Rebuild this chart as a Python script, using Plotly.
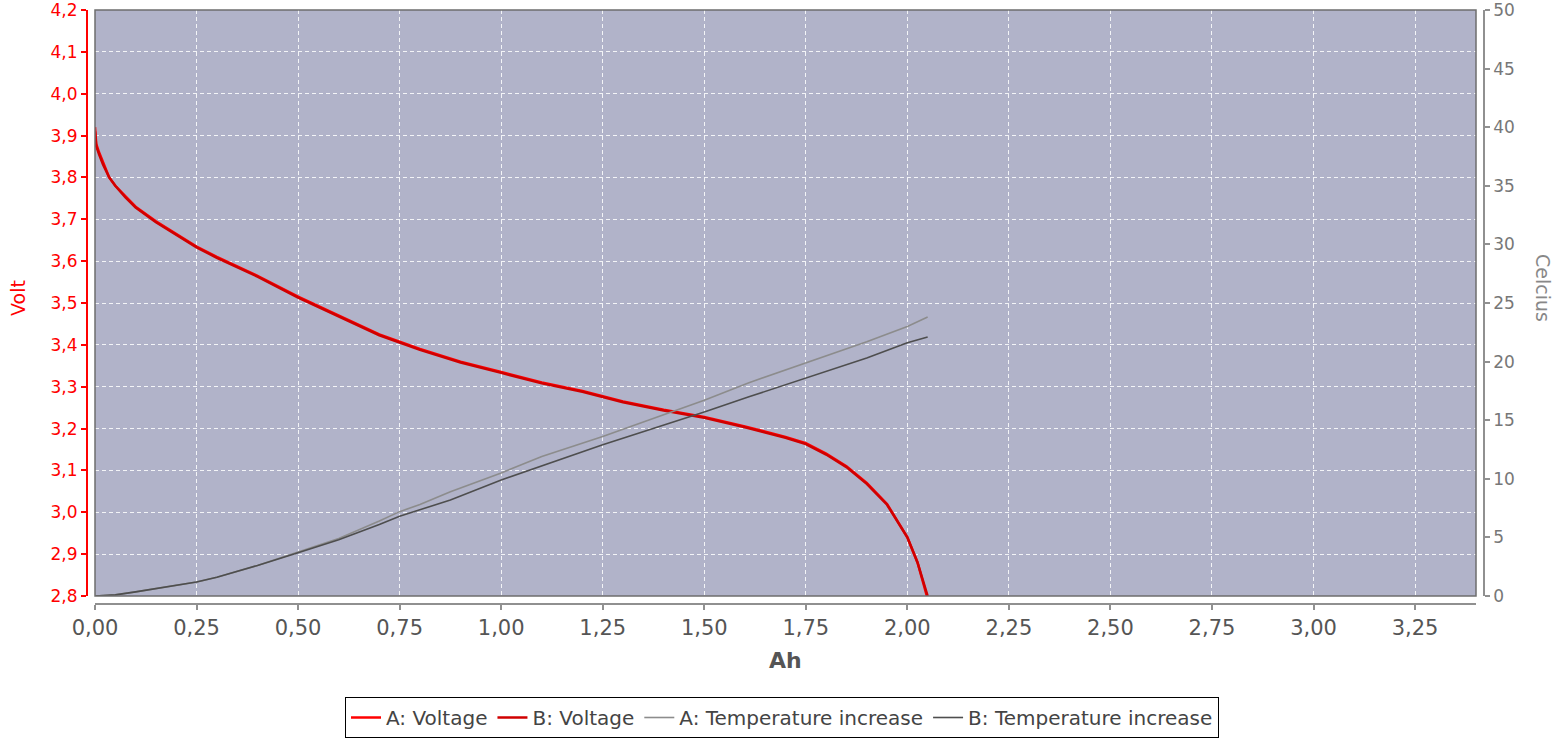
import plotly.graph_objects as go

# ---- data ----
ah_va = [0.000, 0.003, 0.010, 0.020, 0.035, 0.050, 0.075, 0.100, 0.150, 0.200,
         0.250, 0.300, 0.400, 0.500, 0.600, 0.700, 0.800, 0.900, 1.000, 1.100,
         1.200, 1.300, 1.400, 1.500, 1.600, 1.700, 1.750, 1.800, 1.850, 1.900,
         1.950, 2.000, 2.025, 2.040, 2.048]
volt_a = [3.92, 3.88, 3.86, 3.835, 3.80, 3.78, 3.755, 3.73, 3.695, 3.665,
          3.635, 3.61, 3.565, 3.515, 3.47, 3.425, 3.39, 3.36, 3.335, 3.31,
          3.29, 3.265, 3.245, 3.228, 3.205, 3.18, 3.165, 3.14, 3.11, 3.07,
          3.02, 2.94, 2.88, 2.83, 2.80]

ah_vb = [0.000, 0.003, 0.010, 0.020, 0.035, 0.050, 0.075, 0.100, 0.150, 0.200,
         0.250, 0.300, 0.400, 0.500, 0.600, 0.700, 0.800, 0.900, 1.000, 1.100,
         1.200, 1.300, 1.400, 1.500, 1.600, 1.700, 1.750, 1.800, 1.850, 1.900,
         1.950, 2.000, 2.025, 2.040, 2.050]
volt_b = [3.91, 3.875, 3.855, 3.83, 3.80, 3.78, 3.752, 3.728, 3.693, 3.663,
          3.633, 3.608, 3.563, 3.513, 3.468, 3.423, 3.388, 3.358, 3.333, 3.308,
          3.288, 3.263, 3.243, 3.226, 3.203, 3.178, 3.163, 3.138, 3.108, 3.068,
          3.018, 2.94, 2.88, 2.83, 2.80]

ah_ta = [0.00, 0.05, 0.10, 0.15, 0.20, 0.25, 0.30, 0.40, 0.50, 0.60, 0.70,
         0.75, 0.80, 0.875, 1.00, 1.10, 1.25, 1.40, 1.50, 1.61, 1.75, 1.90,
         2.00, 2.05]
temp_a = [0.0, 0.1, 0.35, 0.65, 0.9, 1.2, 1.6, 2.6, 3.75, 4.9, 6.4,
          7.2, 7.8, 8.9, 10.5, 11.9, 13.6, 15.5, 16.7, 18.2, 19.9, 21.7,
          23.0, 23.8]

ah_tb = [0.00, 0.05, 0.10, 0.15, 0.20, 0.25, 0.30, 0.40, 0.50, 0.60, 0.70,
         0.75, 0.875, 1.00, 1.25, 1.50, 1.61, 1.75, 1.90, 2.00, 2.05]
temp_b = [0.0, 0.1, 0.35, 0.65, 0.9, 1.2, 1.6, 2.6, 3.7, 4.8, 6.1,
          6.8, 8.2, 9.9, 12.9, 15.7, 17.0, 18.6, 20.3, 21.6, 22.1]

series_names = ["A: Voltage", "B: Voltage", "A: Temperature increase", "B: Temperature increase"]

# tick values / labels
volt_ticks = [2.8, 2.9, 3.0, 3.1, 3.2, 3.3, 3.4, 3.5, 3.6, 3.7, 3.8, 3.9, 4.0, 4.1, 4.2]
volt_labels = ["2,8", "2,9", "3,0", "3,1", "3,2", "3,3", "3,4", "3,5", "3,6", "3,7",
               "3,8", "3,9", "4,0", "4,1", "4,2"]
celsius_ticks = [0, 5, 10, 15, 20, 25, 30, 35, 40, 45, 50]
ah_ticks = [0.0, 0.25, 0.5, 0.75, 1.0, 1.25, 1.5, 1.75, 2.0, 2.25, 2.5, 2.75, 3.0, 3.25]
ah_labels = ["0,00", "0,25", "0,50", "0,75", "1,00", "1,25", "1,50", "1,75", "2,00",
             "2,25", "2,50", "2,75", "3,00", "3,25"]

fig = go.Figure()
fig.add_trace(go.Scatter(x=ah_va, y=volt_a, name=series_names[0], mode="lines",
                         line=dict(color="#ff0000", width=2.5), yaxis="y"))
fig.add_trace(go.Scatter(x=ah_vb, y=volt_b, name=series_names[1], mode="lines",
                         line=dict(color="#d00000", width=2.5), yaxis="y"))
fig.add_trace(go.Scatter(x=ah_ta, y=temp_a, name=series_names[2], mode="lines",
                         line=dict(color="#8c8c8c", width=1.6), yaxis="y2"))
fig.add_trace(go.Scatter(x=ah_tb, y=temp_b, name=series_names[3], mode="lines",
                         line=dict(color="#4e4e4e", width=1.6), yaxis="y2"))

# body margin is removed by post_script, figure fills the window from (0,0)
W, H = 1558, 741
ml = 87
mt = 10
mr = W - 1484
mb = H - 604
pw = W - ml - mr
ph = H - mt - mb


def px_x(p):
    return (p - 87) / pw


def px_y(p):
    return (604 - p) / ph


x0 = px_x(95)
x1 = px_x(1476)
y0 = px_y(596)

font = "DejaVu Sans"
grid = "rgba(255,255,255,0.85)"
fig.update_layout(
    template="none",
    width=W, height=H,
    margin=dict(l=ml, r=mr, t=mt, b=mb, pad=0, autoexpand=False),
    paper_bgcolor="white",
    plot_bgcolor="#b1b3c9",
    showlegend=True,
    hovermode=False,
    font=dict(family=font, size=16, color="#444444"),
    xaxis=dict(
        domain=[x0, x1], range=[0, 3.4], anchor="free", position=0,
        tickmode="array", tickvals=ah_ticks, ticktext=ah_labels,
        showline=True, linecolor="#909090", linewidth=1.5,
        ticks="outside", ticklen=5, tickcolor="#909090", tickwidth=1.5,
        tickfont=dict(family=font, size=21, color="#555555"),
        ticklabeloverflow="allow",
        showgrid=True, gridcolor=grid, gridwidth=1, griddash="4px,3px",
        zeroline=False,
    ),
    yaxis=dict(
        domain=[y0, 1], range=[2.8, 4.2 + 1e-6], anchor="free", position=0,
        tickmode="array", tickvals=volt_ticks, ticktext=volt_labels,
        showline=True, linecolor="#ff0000", linewidth=2,
        ticks="outside", ticklen=5, tickcolor="#ff0000", tickwidth=1.5,
        tickfont=dict(family=font, size=17, color="#ff0000"),
        ticklabeloverflow="allow",
        showgrid=True, gridcolor=grid, gridwidth=1, griddash="4px,3px",
        zeroline=False,
    ),
    yaxis2=dict(
        overlaying="y", side="right", anchor="free", position=1,
        range=[0, 50 + 1e-6], tickmode="array", tickvals=celsius_ticks,
        showline=True, linecolor="#909090", linewidth=1.5,
        ticks="outside", ticklen=5, tickcolor="#909090", tickwidth=1.5,
        tickfont=dict(family=font, size=17, color="#777777"),
        ticklabeloverflow="allow",
        showgrid=False, zeroline=False,
    ),
    legend=dict(
        orientation="h", x=px_x(782), xanchor="center",
        y=px_y(697), yanchor="top",
        bgcolor="white", bordercolor="#000000", borderwidth=1,
        font=dict(family=font, size=20, color="#444444"),
        tracegroupgap=0,
    ),
    shapes=[dict(type="rect", xref="x domain", yref="y domain", x0=0, x1=1, y0=0, y1=1,
                 line=dict(color="#6e6e6e", width=1.5), fillcolor="rgba(0,0,0,0)", layer="above")],
    annotations=[
        dict(text="<b>Ah</b>", xref="paper", yref="paper", x=px_x(785.5), y=px_y(660),
             xanchor="center", yanchor="middle", showarrow=False,
             font=dict(family=font, size=22, color="#555555")),
        dict(text="Volt", xref="paper", yref="paper", x=px_x(18), y=px_y(298),
             xanchor="center", yanchor="middle", showarrow=False, textangle=-90,
             font=dict(family=font, size=19, color="#ff0000")),
        dict(text="Celcius", xref="paper", yref="paper", x=px_x(1543), y=px_y(288),
             xanchor="center", yanchor="middle", showarrow=False, textangle=90,
             font=dict(family=font, size=19, color="#888888")),
    ],
)

fig.write_html("out.html",
               config={"displayModeBar": False},
               post_script="document.body.style.margin='0px';document.body.style.overflow='hidden';")
